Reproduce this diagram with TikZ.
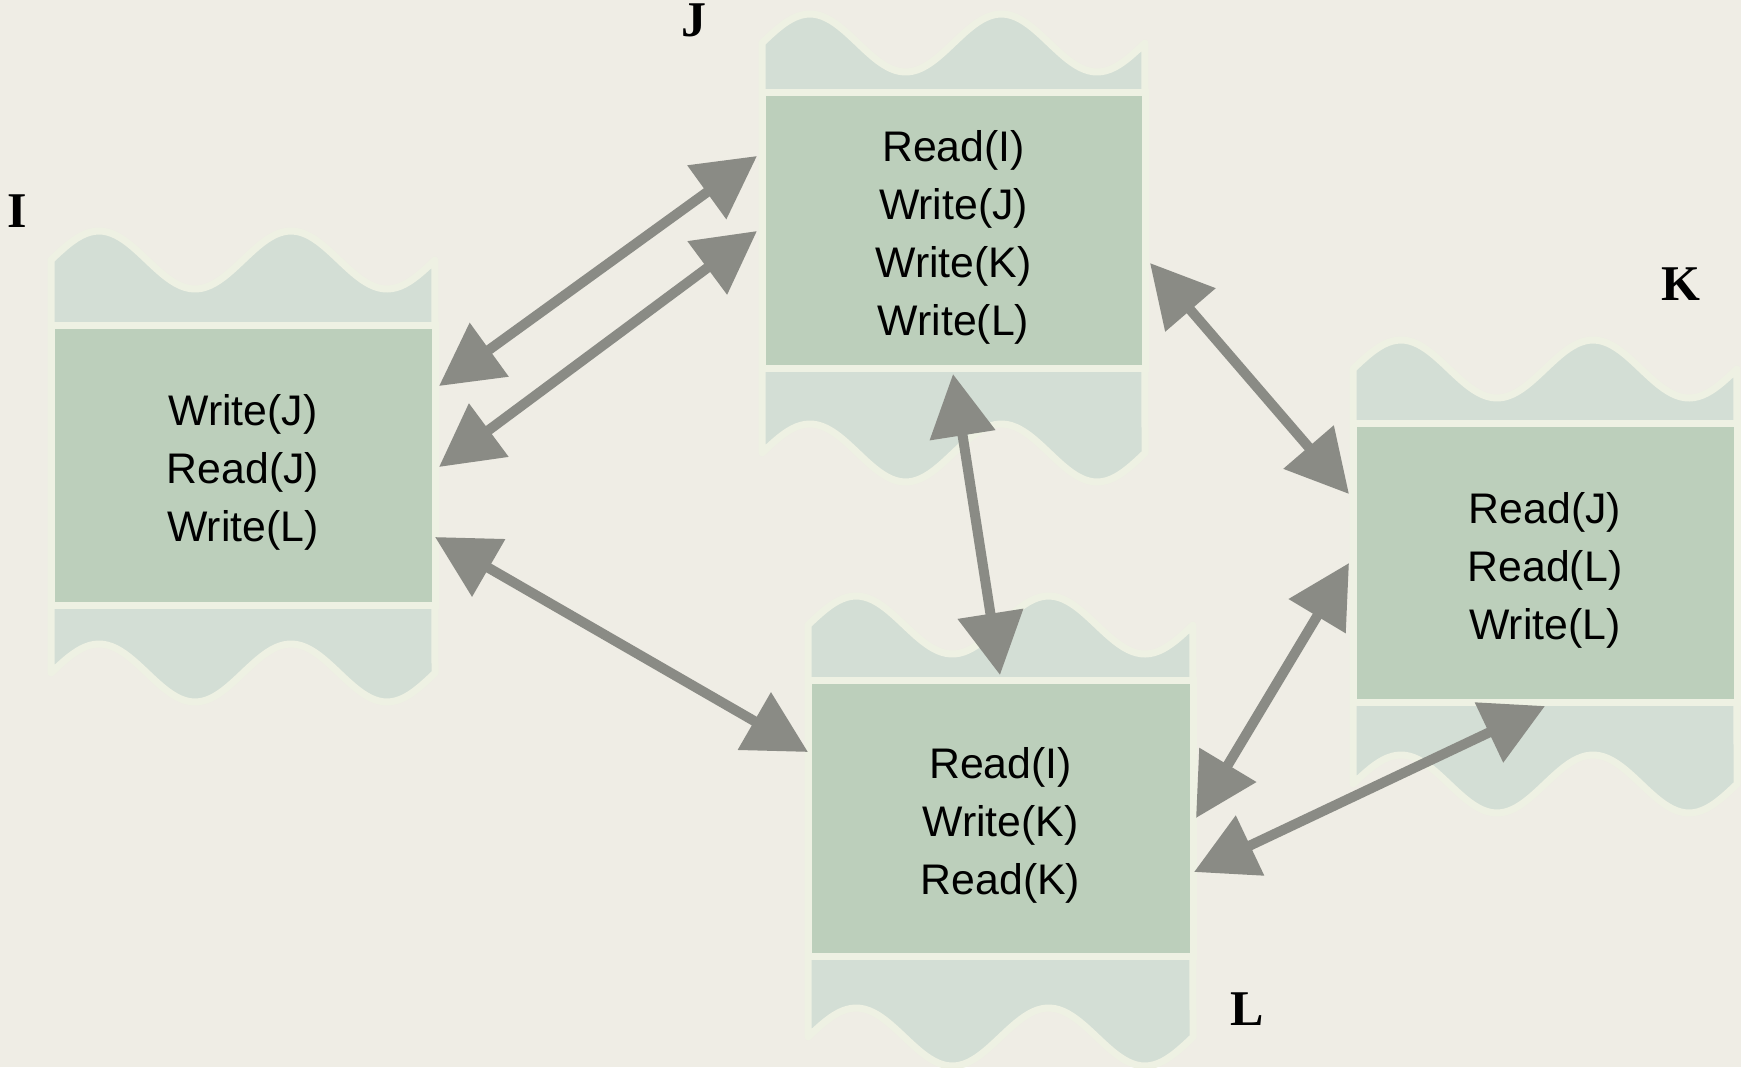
\documentclass[tikz,border=0pt]{standalone}
\usepackage{fontspec}
\setmainfont{Liberation Serif}
\newfontfamily\boxfont{Liberation Sans}
\usetikzlibrary{arrows.meta}
\definecolor{bgc}{HTML}{EFEDE5}
\definecolor{tapefill}{HTML}{D3DED5}
\definecolor{boxfill}{HTML}{BCCFBB}
\definecolor{edgec}{HTML}{EEF1E3}
\definecolor{arrowc}{HTML}{8A8B85}
\newcommand\tapeshape[5]{%
  \filldraw[tape] plot[domain=0:1,samples=90] ({#1+(#2-#1)*\x},{#3-#5*sin(720*\x)})
    -- plot[domain=1:0,samples=90] ({#1+(#2-#1)*\x},{#4-#5*sin(720*\x)}) -- cycle;}
\begin{document}
\begin{tikzpicture}[x=0.5pt,y=-0.5pt,
  tape/.style={fill=tapefill,draw=edgec,line width=3.5pt,line join=round},
  box/.style={draw=edgec,line width=3.5pt,fill=boxfill,inner sep=0pt},
  txt/.style={inner sep=0pt,align=center,yshift=-3.5pt,
    font=\boxfont\fontsize{21.4pt}{29pt}\selectfont},
  lbl/.style={font=\fontsize{25pt}{30pt}\selectfont\bfseries,inner sep=0pt},
  link/.style={draw=arrowc,line width=5pt,
    {Triangle[length=31pt,width=32pt]}-{Triangle[length=31pt,width=32pt]}}]
\fill[bgc] (0,0) rectangle (1741,1067);
\useasboundingbox (0,0) rectangle (1741,1067);
% tapes
\tapeshape{51}{435}{260}{673}{29}
\tapeshape{762}{1145}{43}{453}{29}
\tapeshape{1353}{1737}{369}{784}{29}
\tapeshape{808}{1193}{625}{1037}{29}
% boxes
\node[box,minimum width=192pt,minimum height=140pt] (I) at (243,465.5) {};
\node[box,minimum width=191.5pt,minimum height=138pt] (J) at (953.5,230.5) {};
\node[box,minimum width=192pt,minimum height=139.5pt] (K) at (1545,563) {};
\node[box,minimum width=192.5pt,minimum height=138pt] (L) at (1000.5,818) {};
% box texts
\node[txt] (It) at (I.center) {Write(J)\\Read(J)\\Write(L)};
\node[txt] (Jt) at (J.center) {Read(I)\\Write(J)\\Write(K)\\Write(L)};
\node[txt] (Kt) at (K.center) {Read(J)\\Read(L)\\Write(L)};
\node[txt] (Lt) at (L.center) {Read(I)\\Write(K)\\Read(K)};
% labels
\node[lbl] (lI) at (17,211) {I};
\node[lbl] (lJ) at (694,20) {J};
\node[lbl] (lK) at (1681,284) {K};
\node[lbl] (lL) at (1247,1009) {L};
% arrow end points
\coordinate (p1a) at (439,386); \coordinate (p1b) at (757,156);
\coordinate (p2a) at (439,467); \coordinate (p2b) at (757,231);
\coordinate (p3a) at (435,537); \coordinate (p3b) at (808,752);
\coordinate (p4a) at (953,374); \coordinate (p4b) at (1000,675);
\coordinate (p5a) at (1150,263); \coordinate (p5b) at (1349,494);
\coordinate (p6a) at (1349,563); \coordinate (p6b) at (1196,818);
\coordinate (p7a) at (1545,706); \coordinate (p7b) at (1194,872);
\draw[link] (p1a) -- (p1b);
\draw[link] (p2a) -- (p2b);
\draw[link] (p3a) -- (p3b);
\draw[link] (p4a) -- (p4b);
\draw[link] (p5a) -- (p5b);
\draw[link] (p6a) -- (p6b);
\draw[link] (p7a) -- (p7b);
\end{tikzpicture}
\end{document}
